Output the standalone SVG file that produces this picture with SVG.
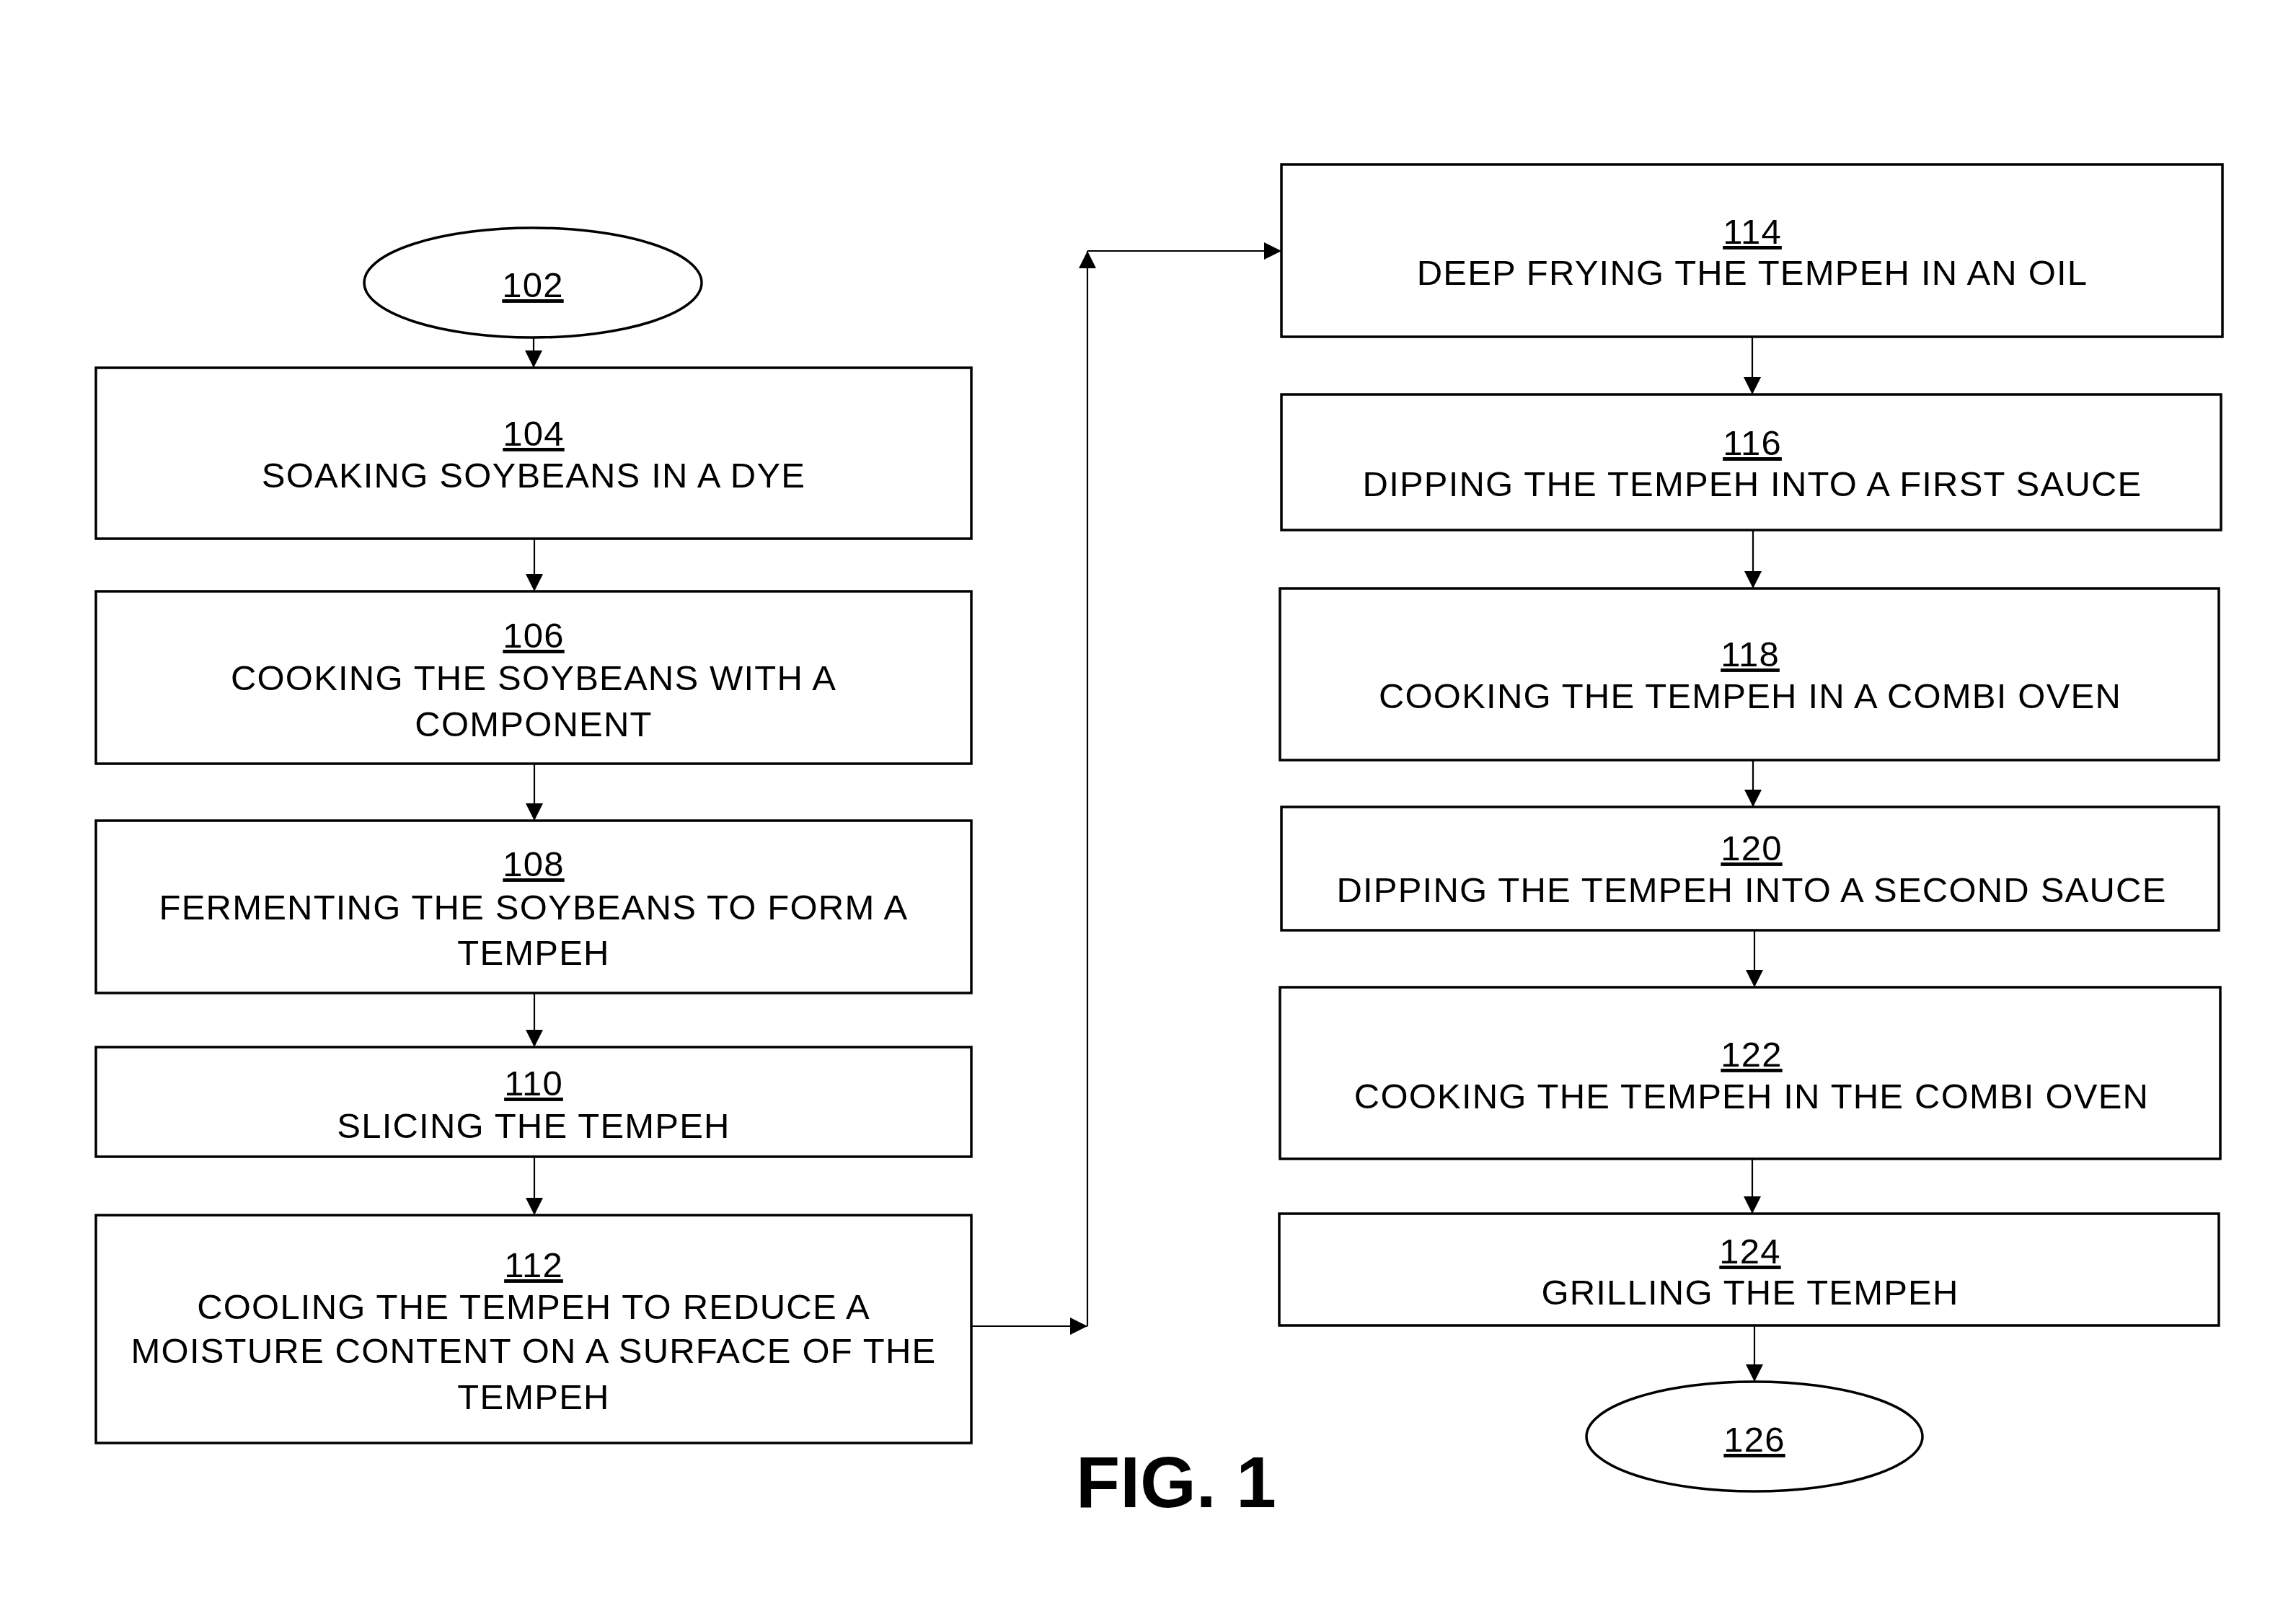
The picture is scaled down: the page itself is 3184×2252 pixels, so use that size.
<svg xmlns="http://www.w3.org/2000/svg" width="3184" height="2252" viewBox="0 0 3184 2252">
<style>
.box{fill:#fff;stroke:#000;stroke-width:3.5}
.t{font-family:"Liberation Sans",Arial,sans-serif;font-size:49px;letter-spacing:1.2px;fill:#000;text-anchor:middle}
.n{text-decoration:underline}
.c{fill:none;stroke:#000;stroke-width:2.2}
.fig{font-family:"Liberation Sans",Arial,sans-serif;font-size:100px;font-weight:bold;fill:#000;text-anchor:middle}
</style>
<defs>
<marker id="ah" markerUnits="userSpaceOnUse" markerWidth="24" markerHeight="24" refX="22" refY="11" orient="auto" viewBox="0 0 22 22">
<path d="M0,0 L22,11 L0,22 z" fill="#000"/>
</marker>
</defs>
<rect width="3184" height="2252" fill="#fff"/>
<g id="connectors">
<path class="c" d="M740,468 V510" marker-end="url(#ah)"/>
<path class="c" d="M741,747 V820" marker-end="url(#ah)"/>
<path class="c" d="M741,1059 V1138" marker-end="url(#ah)"/>
<path class="c" d="M741,1377 V1452" marker-end="url(#ah)"/>
<path class="c" d="M741,1604 V1685" marker-end="url(#ah)"/>
<path class="c" d="M1347,1839 H1508" marker-end="url(#ah)"/>
<path class="c" d="M1508,1839 V348" marker-end="url(#ah)"/>
<path class="c" d="M1508,348 H1777" marker-end="url(#ah)"/>
<path class="c" d="M2430,467 V547" marker-end="url(#ah)"/>
<path class="c" d="M2431,735 V816" marker-end="url(#ah)"/>
<path class="c" d="M2431,1054 V1119" marker-end="url(#ah)"/>
<path class="c" d="M2433,1290 V1369" marker-end="url(#ah)"/>
<path class="c" d="M2430,1607 V1683" marker-end="url(#ah)"/>
<path class="c" d="M2433,1838 V1916" marker-end="url(#ah)"/>
</g>
<g id="n102">
<ellipse class="box" cx="739" cy="392" rx="234" ry="76"/>
<text class="t n" x="739" y="412">102</text>
</g>
<g id="n104">
<rect class="box" x="133" y="510" width="1214" height="237"/>
<text class="t n" x="740" y="618">104</text>
<text class="t" x="740" y="676">SOAKING SOYBEANS IN A DYE</text>
</g>
<g id="n106">
<rect class="box" x="133" y="820" width="1214" height="239"/>
<text class="t n" x="740" y="898">106</text>
<text class="t" x="740" y="957">COOKING THE SOYBEANS WITH A</text>
<text class="t" x="740" y="1021">COMPONENT</text>
</g>
<g id="n108">
<rect class="box" x="133" y="1138" width="1214" height="239"/>
<text class="t n" x="740" y="1215">108</text>
<text class="t" x="740" y="1275">FERMENTING THE SOYBEANS TO FORM A</text>
<text class="t" x="740" y="1338">TEMPEH</text>
</g>
<g id="n110">
<rect class="box" x="133" y="1452" width="1214" height="152"/>
<text class="t n" x="740" y="1519">110</text>
<text class="t" x="740" y="1578">SLICING THE TEMPEH</text>
</g>
<g id="n112">
<rect class="box" x="133" y="1685" width="1214" height="316"/>
<text class="t n" x="740" y="1771">112</text>
<text class="t" x="740" y="1829">COOLING THE TEMPEH TO REDUCE A</text>
<text class="t" x="740" y="1890">MOISTURE CONTENT ON A SURFACE OF THE</text>
<text class="t" x="740" y="1954">TEMPEH</text>
</g>
<g id="n114">
<rect class="box" x="1777" y="228" width="1305" height="239"/>
<text class="t n" x="2430" y="338">114</text>
<text class="t" x="2430" y="395">DEEP FRYING THE TEMPEH IN AN OIL</text>
</g>
<g id="n116">
<rect class="box" x="1777" y="547" width="1303" height="188"/>
<text class="t n" x="2430" y="631">116</text>
<text class="t" x="2430" y="688">DIPPING THE TEMPEH INTO A FIRST SAUCE</text>
</g>
<g id="n118">
<rect class="box" x="1775" y="816" width="1302" height="238"/>
<text class="t n" x="2427" y="924">118</text>
<text class="t" x="2427" y="982">COOKING THE TEMPEH IN A COMBI OVEN</text>
</g>
<g id="n120">
<rect class="box" x="1777" y="1119" width="1300" height="171"/>
<text class="t n" x="2429" y="1193">120</text>
<text class="t" x="2429" y="1251">DIPPING THE TEMPEH INTO A SECOND SAUCE</text>
</g>
<g id="n122">
<rect class="box" x="1775" y="1369" width="1304" height="238"/>
<text class="t n" x="2429" y="1479">122</text>
<text class="t" x="2429" y="1537">COOKING THE TEMPEH IN THE COMBI OVEN</text>
</g>
<g id="n124">
<rect class="box" x="1774" y="1683" width="1303" height="155"/>
<text class="t n" x="2427" y="1752">124</text>
<text class="t" x="2427" y="1809">GRILLING THE TEMPEH</text>
</g>
<g id="n126">
<ellipse class="box" cx="2433" cy="1992" rx="233" ry="76"/>
<text class="t n" x="2433" y="2013">126</text>
</g>
<text class="fig" x="1631" y="2090">FIG. 1</text>
</svg>
